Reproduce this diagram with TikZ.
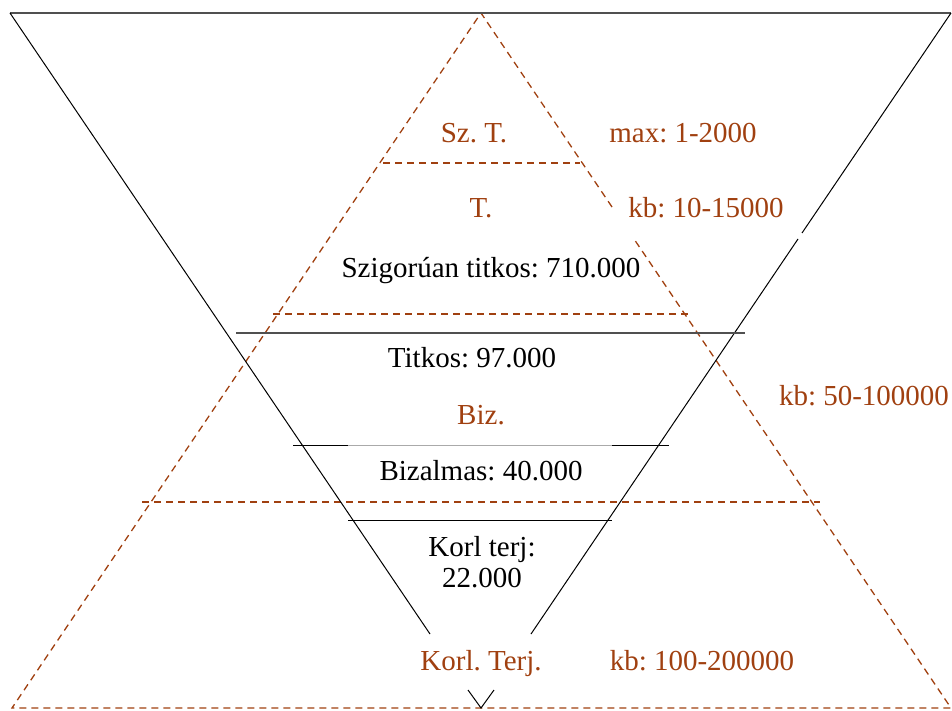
\documentclass[tikz,border=0pt]{standalone}
\usepackage{fontspec}
\setmainfont{Liberation Serif}
\definecolor{rust}{RGB}{160,64,16}
\definecolor{edgegray}{RGB}{80,80,80}
\definecolor{lightrule}{RGB}{170,170,170}
\tikzset{
  lbl/.style={inner sep=0pt, anchor=base, font=\fontsize{29}{31}\selectfont},
  rustlbl/.style={lbl, text=rust},
  levelline/.style={rust, line width=1.3pt, dash pattern=on 7pt off 5pt},
  funnel/.style={black, line width=1pt},
  heavyrule/.style={edgegray, line width=1.6pt},
}
\frenchspacing

\begin{document}
\begin{tikzpicture}[x=1pt, y=-1pt]
\useasboundingbox (0,0) rectangle (952,711);

% dashed pyramid (estimated sizes)
\coordinate (ptop) at (481,13);
\coordinate (pleft) at (12,708);
\coordinate (pright) at (951,708);
\coordinate (pgapa) at (612,207);
\coordinate (pgapb) at (634,239);
\draw[levelline] (pgapa) -- (ptop) -- (pleft) -- (pright) -- (pgapb);
\draw[levelline] (383,163) coordinate (sztl) -- (580,163) coordinate (sztr);
\draw[levelline] (273,314) coordinate (tl) -- (688,314) coordinate (tr);
\draw[levelline] (142,502) coordinate (bizl) -- (820,502) coordinate (bizr);

% funnel (actual figures)
\coordinate (ftl) at (10,13);
\coordinate (ftr) at (951,13);
\coordinate (fleft) at (430,634);
\coordinate (fright) at (531,634);
\coordinate (fgapa) at (802,233);
\coordinate (fgapb) at (798,239);
\coordinate (vl) at (468,690);
\coordinate (vtip) at (481,708);
\coordinate (vr) at (494,690);
\draw[heavyrule] (ftl) -- (ftr);
\draw[funnel] (ftl) -- (fleft);
\draw[funnel] (ftr) -- (fgapa);
\draw[funnel] (fgapb) -- (fright);
\draw[funnel] (vl) -- (vtip) -- (vr);

\coordinate (titl) at (236,333);
\coordinate (titr) at (745,333);
\draw[heavyrule] (titl) -- (titr);
\coordinate (bzl) at (293,445);
\coordinate (bzla) at (348,445);
\coordinate (bzra) at (612,445);
\coordinate (bzr) at (669,445);
\draw[funnel] (bzl) -- (bzla);
\draw[lightrule, line width=0.8pt] (bzla) -- (bzra);
\draw[funnel] (bzra) -- (bzr);
\coordinate (kl) at (348,520);
\coordinate (kr) at (612,520);
\draw[funnel] (kl) -- (kr);

% labels
\node[rustlbl] (szt) at (474,143) {Sz. T.};
\node[rustlbl] (sztnum) at (683,143) {max: 1-2000};
\node[rustlbl] (t) at (481,218) {T.};
\node[rustlbl] (tnum) at (706,218) {kb: 10-15000};
\node[lbl] (szig) at (491,277) {Szigorúan titkos: 710.000};
\node[lbl] (titkos) at (472,367) {Titkos: 97.000};
\node[rustlbl] (biznum) at (864,405) {kb: 50-100000};
\node[rustlbl] (biz) at (481,424) {Biz.};
\node[lbl] (bizalmas) at (481,480) {Bizalmas: 40.000};
\node[lbl, align=center, anchor=center] (korl) at (482,562) {Korl terj:\\22.000};
\node[rustlbl] (korlt) at (481,670) {Korl. Terj.};
\node[rustlbl] (korlnum) at (702,670) {kb: 100-200000};
\end{tikzpicture}
\end{document}
